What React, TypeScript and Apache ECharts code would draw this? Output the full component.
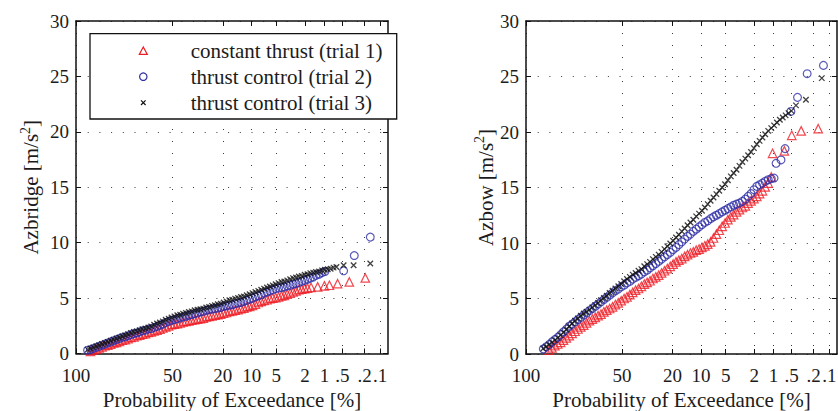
import React, { useEffect, useRef } from 'react';
import * as echarts from 'echarts';

// x axis: exceedance probability in %, drawn on a Rayleigh probability scale
const tickProbs = [100, 50, 20, 10, 5, 2, 1, 0.5, 0.2, 0.1];
const tickLabels = ['100', '50', '20', '10', '5', '2', '1', '.5', '.2', '.1'];
const xMinProb = 100;
const xMaxProb = 0.07;
const yMin = 0;
const yMax = 30;
const yStep = 5;

const seriesNames = ['constant thrust (trial 1)', 'thrust control (trial 2)', 'thrust control (trial 3)'];
const axisTitleX = 'Probability of Exceedance [%]';

// exceedance probabilities (%) of the densely packed part of each sample
const denseProbs = [
  99.0, 98.45, 97.78, 96.98, 96.08, 95.06, 93.94, 92.72, 91.39, 89.98,
  88.47, 86.88, 85.21, 83.47, 81.67, 79.8, 77.88, 75.91, 73.89, 71.85,
  69.77, 67.66, 65.54, 63.41, 61.26, 59.12, 56.98, 54.85, 52.73, 50.63,
  48.55, 46.5, 44.49, 42.5, 40.56, 38.65, 36.79, 34.97, 33.21, 31.49,
  29.82, 28.21, 26.65, 25.14, 23.69, 22.3, 20.96, 19.68, 18.45, 17.28,
  16.16, 15.1, 14.09, 13.12, 12.21, 11.35, 10.54, 9.77, 9.05, 8.37,
  7.73, 7.13, 6.57, 6.05, 5.56, 5.1, 4.68, 4.28, 3.92, 3.58,
  3.26, 2.97, 2.7, 2.46, 2.23, 2.02, 1.83, 1.66, 1.5, 1.36,
  1.22, 1.09, 0.983, 0.883, 0.791, 0.708, 0.633, 0.565, 0.504,
];

// Azbridge [m/s^2] values on denseProbs, then the sparse tail as [exceedance %, value]
const bridgeTrial1Dense = [
  null, 0.2, 0.3, 0.4, 0.5, 0.6, 0.7, 0.75, 0.85, 0.95,
  1.0, 1.1, 1.2, 1.25, 1.35, 1.45, 1.5, 1.6, 1.65, 1.75,
  1.8, 1.9, 1.95, 2.05, 2.1, 2.2, 2.3, 2.4, 2.5, 2.6,
  2.65, 2.7, 2.75, 2.85, 2.9, 2.95, 3.0, 3.05, 3.1, 3.15,
  3.2, 3.3, 3.35, 3.4, 3.45, 3.5, 3.55, 3.65, 3.7, 3.8,
  3.85, 3.9, 3.95, 4.05, 4.1, 4.2, 4.25, 4.35, 4.45, 4.6,
  4.7, 4.8, 4.85, 4.95, 5.0, 5.05, 5.1, 5.2, 5.25, 5.35,
  5.45, 5.55, 5.65, 5.75, 5.8, 5.85, 5.9,
];
const bridgeTrial1Tail: [number, number][] = [
  [1.62, 5.96], [1.28, 6.01], [1.0, 6.1], [0.83, 6.16], [0.605, 6.3], [0.379, 6.46], [0.194, 6.82],
];
const bridgeTrial2Dense = [
  0.3, 0.35, 0.45, 0.55, 0.65, 0.75, 0.85, 0.95, 1.05, 1.15,
  1.25, 1.35, 1.45, 1.5, 1.6, 1.7, 1.8, 1.85, 1.95, 2.05,
  2.1, 2.2, 2.25, 2.35, 2.45, 2.55, 2.65, 2.8, 2.9, 3.0,
  3.05, 3.15, 3.2, 3.3, 3.35, 3.45, 3.5, 3.6, 3.65, 3.75,
  3.8, 3.9, 3.95, 4.0, 4.05, 4.1, 4.15, 4.25, 4.3, 4.35,
  4.4, 4.5, 4.55, 4.6, 4.7, 4.8, 4.9, 5.0, 5.1, 5.2,
  5.3, 5.45, 5.55, 5.65, 5.75, 5.85, 5.9, 5.95, 6.0, 6.1,
  6.15, 6.25, 6.3, 6.4, 6.5, 6.6, 6.7, 6.8, 6.9, 7.05,
  7.15, 7.3, 7.4,
];
const bridgeTrial2Tail: [number, number][] = [
  [0.477, 7.46], [0.309, 8.84], [0.156, 10.5],
];
const bridgeTrial3Dense = [
  0.35, 0.45, 0.55, 0.65, 0.75, 0.85, 0.95, 1.05, 1.15, 1.25,
  1.35, 1.45, 1.55, 1.65, 1.75, 1.85, 1.95, 2.0, 2.1, 2.2,
  2.25, 2.35, 2.45, 2.6, 2.7, 2.8, 2.9, 3.05, 3.15, 3.25,
  3.35, 3.45, 3.5, 3.6, 3.65, 3.75, 3.8, 3.9, 3.95, 4.0,
  4.05, 4.15, 4.2, 4.3, 4.35, 4.45, 4.5, 4.6, 4.7, 4.8,
  4.85, 4.95, 5.0, 5.1, 5.15, 5.25, 5.35, 5.45, 5.55, 5.65,
  5.75, 5.85, 5.95, 6.05, 6.15, 6.25, 6.35, 6.45, 6.5, 6.6,
  6.7, 6.8, 6.85, 6.95, 7.0, 7.1, 7.15, 7.25, 7.3, 7.35,
  7.4, 7.5, 7.55, 7.6, 7.65, 7.75, 7.8,
];
const bridgeTrial3Tail: [number, number][] = [
  [0.477, 7.97], [0.318, 7.97], [0.156, 8.12],
];

// Azbow [m/s^2]
const bowTrial1Dense = [
  null, null, null, null, 0.35, 0.55, 0.75, 0.9, 1.05, 1.25,
  1.45, 1.65, 1.85, 2.05, 2.25, 2.45, 2.6, 2.8, 3.0, 3.15,
  3.3, 3.45, 3.6, 3.8, 3.95, 4.1, 4.25, 4.45, 4.6, 4.8,
  5.0, 5.15, 5.35, 5.55, 5.75, 5.9, 6.1, 6.3, 6.45, 6.6,
  6.8, 6.95, 7.1, 7.3, 7.5, 7.7, 7.9, 8.1, 8.3, 8.45,
  8.6, 8.8, 8.95, 9.1, 9.2, 9.35, 9.45, 9.6, 9.75, 9.9,
  10.1, 10.45, 10.8, 11.15, 11.5, 11.8, 12.1, 12.35, 12.55, 12.8,
  13.0, 13.2, 13.35, 13.6, 13.8, 14.0, 14.2, 14.45, 14.7, 15.05,
  15.4, 15.95,
];
const bowTrial1Tail: [number, number][] = [
  [1.04, 18.08], [0.665, 18.3], [0.497, 19.7], [0.339, 20.1], [0.164, 20.3],
];
const bowTrial2Dense = [
  null, null, 0.45, 0.65, 0.85, 1.1, 1.3, 1.5, 1.75, 2.0,
  2.25, 2.5, 2.7, 2.9, 3.1, 3.3, 3.5, 3.7, 3.9, 4.1,
  4.3, 4.5, 4.7, 4.9, 5.1, 5.3, 5.5, 5.7, 5.85, 6.05,
  6.2, 6.4, 6.55, 6.75, 6.9, 7.05, 7.2, 7.4, 7.55, 7.75,
  7.95, 8.15, 8.35, 8.55, 8.75, 8.95, 9.15, 9.4, 9.6, 9.85,
  10.1, 10.35, 10.6, 10.8, 11.05, 11.25, 11.45, 11.65, 11.85, 12.0,
  12.2, 12.35, 12.5, 12.65, 12.8, 12.95, 13.1, 13.25, 13.4, 13.5,
  13.6, 13.75, 13.95, 14.2, 14.45, 14.8, 15.1, 15.25, 15.4, 15.55,
  15.7, 15.8, 15.85,
];
const bowTrial2Tail: [number, number][] = [
  [0.913, 17.18], [0.757, 17.48], [0.647, 18.5], [0.514, 21.85], [0.394, 23.12], [0.264, 25.25], [0.13, 26.0],
];
const bowTrial3Dense = [
  null, null, 0.5, 0.65, 0.85, 1.05, 1.25, 1.45, 1.7, 1.95,
  2.2, 2.5, 2.75, 3.0, 3.2, 3.45, 3.65, 3.8, 4.0, 4.2,
  4.4, 4.6, 4.85, 5.05, 5.25, 5.5, 5.7, 5.9, 6.1, 6.3,
  6.55, 6.75, 6.95, 7.15, 7.3, 7.5, 7.65, 7.9, 8.1, 8.3,
  8.55, 8.75, 8.95, 9.2, 9.45, 9.7, 9.95, 10.2, 10.5, 10.75,
  11.05, 11.3, 11.6, 11.85, 12.1, 12.4, 12.65, 12.9, 13.2, 13.5,
  13.8, 14.1, 14.4, 14.7, 15.0, 15.3, 15.65, 16.0, 16.3, 16.6,
  16.95, 17.3, 17.6, 17.9, 18.2, 18.55, 18.9, 19.2, 19.5, 19.8,
  20.1, 20.35, 20.6, 20.85, 21.1, 21.3, 21.5, 21.7, 21.9,
];
const bowTrial3Tail: [number, number][] = [
  [0.419, 22.4], [0.278, 22.9], [0.14, 24.85],
];

const FONT = 'Liberation Serif';
const TEXT = '#1c1c1c';
const RED = '#ee1c24';
const BLUE = '#2e2ea6';
const BLACK = '#111111';
const GRIDDOT = '#3a3a3a';

// Rayleigh probability scale: reduced variate sqrt(-ln(P))
const toS = (p: number) => Math.sqrt(-Math.log(p / 100));
const tickVals = tickProbs.map(toS);
const labelFor = (v: number) => {
  let best = 0;
  let d = Infinity;
  tickVals.forEach((t, i) => {
    if (Math.abs(t - v) < d) {
      d = Math.abs(t - v);
      best = i;
    }
  });
  return tickLabels[best];
};

const joinSample = (dense: (number | null)[], tail: [number, number][]) => {
  const pts: [number, number][] = [];
  dense.forEach((v, i) => {
    if (v !== null && v !== undefined) pts.push([denseProbs[i], v]);
  });
  return pts.concat(tail);
};

const X_PATH = 'path://M0,0L10,10M10,0L0,10';

function App() {
  const ref = useRef<HTMLDivElement>(null);
  useEffect(() => {
    if (!ref.current) return;
    const chart = echarts.init(ref.current, undefined, { renderer: 'svg' });

    const grids = [
      { left: 76, top: 21, width: 312, height: 332.5, containLabel: false, outerBoundsMode: 'none' },
      { left: 526, top: 21, width: 311, height: 333, containLabel: false, outerBoundsMode: 'none' },
    ];

    const xAxes: any[] = [];
    const yAxes: any[] = [];
    const yNames = ['Azbridge', 'Azbow'];
    const yNameGaps = [32, 26];
    grids.forEach((_, gi) => {
      xAxes.push({
        type: 'value', gridIndex: gi, position: 'bottom', min: toS(xMinProb), max: toS(xMaxProb),
        name: axisTitleX, nameLocation: 'middle', nameGap: 35,
        nameTextStyle: { fontFamily: FONT, fontSize: 21, color: TEXT },
        axisLine: { show: true, onZero: false, lineStyle: { color: BLACK, width: 1.5 } },
        axisTick: { show: true, inside: true, length: 5, customValues: tickVals, lineStyle: { color: BLACK, width: 1 } },
        axisLabel: { show: true, customValues: tickVals, margin: 12.5, lineHeight: 18, fontFamily: FONT, fontSize: 19, color: TEXT, formatter: (v: number) => labelFor(v) },
        splitLine: { show: true, lineStyle: { color: GRIDDOT, width: 1, type: [1, 11] } },
      });
      xAxes.push({
        type: 'value', gridIndex: gi, position: 'top', min: toS(xMinProb), max: toS(xMaxProb),
        axisLine: { show: true, onZero: false, lineStyle: { color: BLACK, width: 1.5 } },
        axisTick: { show: true, inside: true, length: 5, customValues: tickVals, lineStyle: { color: BLACK, width: 1 } },
        axisLabel: { show: false },
        splitLine: { show: false },
      });
      yAxes.push({
        type: 'value', gridIndex: gi, position: 'left', min: yMin, max: yMax, interval: yStep,
        name: `{t|${yNames[gi]} [m/s}{s|2}{t|]}`, nameLocation: 'middle', nameGap: yNameGaps[gi],
        nameTextStyle: {
          fontFamily: FONT, fontSize: 21, color: TEXT,
          rich: {
            t: { fontFamily: FONT, fontSize: 21, color: TEXT, lineHeight: 26 },
            s: { fontFamily: FONT, fontSize: 14, color: TEXT, lineHeight: 15, verticalAlign: 'top' },
          },
        },
        axisLine: { show: true, onZero: false, lineStyle: { color: BLACK, width: 1.5 } },
        axisTick: { show: true, inside: true, length: 5, lineStyle: { color: BLACK, width: 1 } },
        axisLabel: { show: true, margin: 7, lineHeight: 16, fontFamily: FONT, fontSize: 19, color: TEXT },
        splitLine: { show: true, lineStyle: { color: GRIDDOT, width: 1, type: [1, 10.7] } },
      });
      yAxes.push({
        type: 'value', gridIndex: gi, position: 'right', min: yMin, max: yMax, interval: yStep,
        axisLine: { show: true, onZero: false, lineStyle: { color: BLACK, width: 1.5 } },
        axisTick: { show: true, inside: true, length: 5, lineStyle: { color: BLACK, width: 1 } },
        axisLabel: { show: false },
        splitLine: { show: false },
      });
    });

    const mk = (data: [number, number][], name: string, gi: number, kind: number) => {
      const color = kind === 0 ? RED : kind === 1 ? BLUE : BLACK;
      return {
        type: 'scatter', name, xAxisIndex: gi * 2, yAxisIndex: gi * 2,
        data: data.map(([p, v]) => [toS(p), v]),
        symbol: kind === 0 ? 'triangle' : kind === 1 ? 'circle' : X_PATH,
        symbolSize: kind === 0 ? 8.5 : kind === 1 ? 7.8 : 5.5,
        itemStyle: { color: 'rgba(0,0,0,0)', borderColor: color, borderWidth: kind === 2 ? 1.3 : 1.2 },
        emphasis: { disabled: true },
        z: 3 + kind,
      };
    };

    const series = [
      mk(joinSample(bridgeTrial1Dense, bridgeTrial1Tail), seriesNames[0], 0, 0),
      mk(joinSample(bridgeTrial2Dense, bridgeTrial2Tail), seriesNames[1], 0, 1),
      mk(joinSample(bridgeTrial3Dense, bridgeTrial3Tail), seriesNames[2], 0, 2),
      mk(joinSample(bowTrial1Dense, bowTrial1Tail), seriesNames[0], 1, 0),
      mk(joinSample(bowTrial2Dense, bowTrial2Tail), seriesNames[1], 1, 1),
      mk(joinSample(bowTrial3Dense, bowTrial3Tail), seriesNames[2], 1, 2),
    ];

    // legend box (drawn like the MATLAB legend)
    const lx = 90, ly = 33.7, lw = 306.7, lh = 85.3;
    const mx = 143.3, textX = 190.7;
    const rows = [50.7, 76.7, 102.7];
    const graphic: any[] = [
      { type: 'rect', z: 100, shape: { x: lx, y: ly, width: lw, height: lh }, style: { fill: '#fff', stroke: BLACK, lineWidth: 1.3 } },
      { type: 'polygon', z: 101, shape: { points: [[mx - 4, rows[0] + 3.7], [mx + 4, rows[0] + 3.7], [mx, rows[0] - 3.7]] }, style: { fill: 'none', stroke: RED, lineWidth: 1.2 } },
      { type: 'circle', z: 101, shape: { cx: mx, cy: rows[1], r: 3.7 }, style: { fill: 'none', stroke: BLUE, lineWidth: 1.2 } },
      { type: 'line', z: 101, shape: { x1: mx - 2.3, y1: rows[2] - 2.3, x2: mx + 2.3, y2: rows[2] + 2.3 }, style: { stroke: BLACK, lineWidth: 1.2 } },
      { type: 'line', z: 101, shape: { x1: mx + 2.3, y1: rows[2] - 2.3, x2: mx - 2.3, y2: rows[2] + 2.3 }, style: { stroke: BLACK, lineWidth: 1.2 } },
      ...seriesNames.map((n, i) => ({
        type: 'text', z: 101, x: textX, y: rows[i] + 0.5,
        style: { text: n, fontFamily: FONT, fontSize: 21, fill: TEXT, textVerticalAlign: 'middle', textAlign: 'left' },
      })),
    ];

    chart.setOption({
      animation: false,
      backgroundColor: '#ffffff',
      textStyle: { fontFamily: FONT },
      grid: grids,
      xAxis: xAxes,
      yAxis: yAxes,
      series,
      graphic,
    });
    return () => chart.dispose();
  }, []);
  return <div ref={ref} style={{ position: 'absolute', left: 0, top: 0, width: 838, height: 411 }} />;
}

export default App;
